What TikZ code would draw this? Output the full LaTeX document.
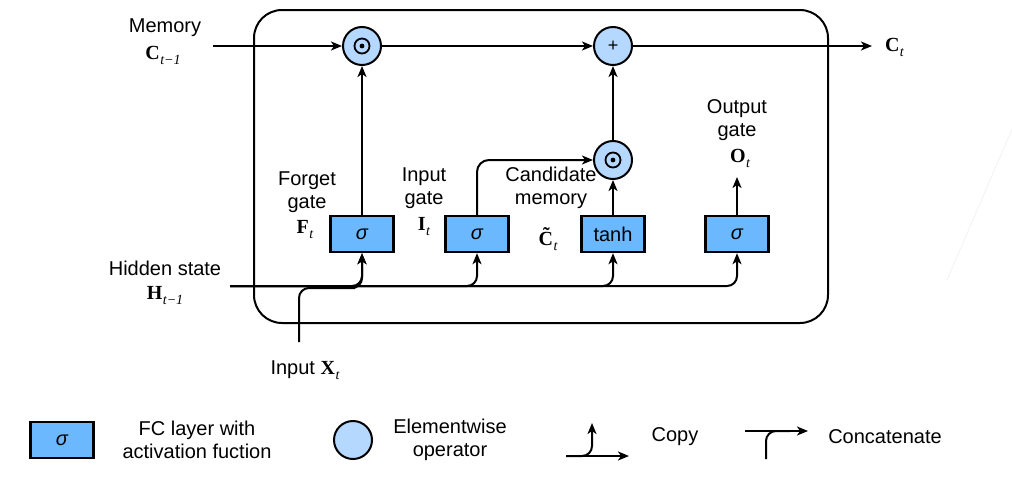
\documentclass[tikz,border=0pt]{standalone}
\usepackage{fontspec}
\setmainfont{Liberation Sans}
\newfontfamily\tnr{Liberation Serif}
\usetikzlibrary{arrows.meta}
\definecolor{boxblue}{RGB}{107,184,255}
\definecolor{circblue}{RGB}{180,216,255}
\newcommand\bsym[2]{{\tnr\bfseries #1}\kern0.5pt{\tnr\itshape\fontsize{14}{14}\selectfont\raisebox{-5pt}{#2}}}
\begin{document}
\begin{tikzpicture}[x=1pt,y=-1pt, line width=2pt,
  txt/.style={font=\fontsize{20}{23}\selectfont, inner sep=0pt, align=center},
  fc/.style={draw, fill=boxblue, minimum width=63pt, minimum height=36pt, inner sep=0pt, font=\fontsize{20}{23}\selectfont, line width=2.4pt},
  op/.style={draw, circle, fill=circblue, minimum size=38pt, inner sep=0pt},
  arr/.style={-{Stealth[length=11pt,width=9pt,inset=3pt]}},
]
\useasboundingbox (0,0) rectangle (1012,485);
% faint artifact line
\draw[line width=0.8pt, black!5] (1013,127) -- (947,280);
% cell
\node[draw, rounded corners=28pt, minimum width=574pt, minimum height=313pt, inner sep=0pt] (cell) at (541,166.5) {};
% operators
\node[op] (m1) at (362,46) {};
\node[op] (add) at (613,46) {\fontsize{18}{18}\selectfont +};
\node[op] (m2) at (613,160) {};
\foreach \n in {m1,m2} {
  \draw[line width=1.8pt] (\n) circle[radius=7.5pt];
  \fill (\n) circle[radius=2.4pt];
}
% FC boxes
\node[fc] (f) at (362,234) {\itshape σ};
\node[fc] (i) at (477,234) {\itshape σ};
\node[fc] (c) at (613,234) {tanh};
\node[fc] (o) at (737,234) {\itshape σ};
% memory line
\node[txt] (memlbl) at (165,28) {Memory};
\node[txt] (cprev) at (163,55) {\bsym{C}{t−1}};
\coordinate (memin) at (213,46);
\draw[arr] (memin) -- (m1);
\draw[arr] (m1) -- (add);
\coordinate (cout) at (872,46);
\draw[arr] (add) -- (cout);
\node[txt, anchor=west] (ct) at (884,47) {\bsym{C}{t}};
% gate connections
\draw[arr] (f) -- (m1);
\draw[arr, rounded corners=12pt] (i.north) |- (m2.west);
\draw[arr] (c) -- (m2);
\draw[arr] (m2) -- (add);
\coordinate (oout) at (737,177);
\draw[arr] (o) -- (oout);
% hidden state and input
\coordinate (hin) at (230,286);
\foreach \n in {f,i,c,o} \draw[arr, rounded corners=10pt] (hin) -| (\n.south);
\coordinate (xin) at (299,342);
\coordinate (hjoin) at (345,288);
\draw[arr, rounded corners=10pt] (xin) |- (hjoin) -| (f.south);
\node[txt] (hl) at (165,268) {Hidden state};
\node[txt] (hs) at (165,296) {\bsym{H}{t−1}};
\node[txt] (xl) at (305,370) {Input \bsym{X}{t}};
% gate labels
\node[txt] (fl) at (307,192) {Forget\\gate};
\node[txt] (fs) at (305,230) {\bsym{F}{t}};
\node[txt] (il) at (424,188.5) {Input\\gate};
\node[txt] (is) at (424,227) {\bsym{I}{t}};
\node[txt] (cl) at (551,188) {Candidate\\memory};
\node[txt] (cs) at (548,239) {\bsym{C̃}{t}};
\node[txt] (ol) at (737,120) {Output\\gate};
\node[txt] (os) at (740,158) {\bsym{O}{t}};
% legend
\node[fc, minimum width=63pt] (lfc) at (62,440) {\itshape σ};
\node[txt] (lfct) at (197,439.5) {FC layer with\\activation fuction};
\node[op] (lop) at (353,440) {};
\node[txt] (lopt) at (450,439.5) {Elementwise\\operator};
\coordinate (cpa) at (566,456);
\coordinate (cpb) at (629,456);
\coordinate (cpup) at (592,423);
\draw[arr] (cpa) -- (cpb);
\draw[arr, rounded corners=10pt] (cpa) -| (cpup);
\node[txt] (cpt) at (675,437) {Copy};
\coordinate (ca) at (745,431);
\coordinate (cb) at (808,431);
\coordinate (cbot) at (766,459);
\coordinate (cjoin) at (790,431);
\draw[arr] (ca) -- (cb);
\draw[rounded corners=10pt] (cbot) |- (cjoin);
\node[txt] (cct) at (885,437) {Concatenate};
\end{tikzpicture}
\end{document}
